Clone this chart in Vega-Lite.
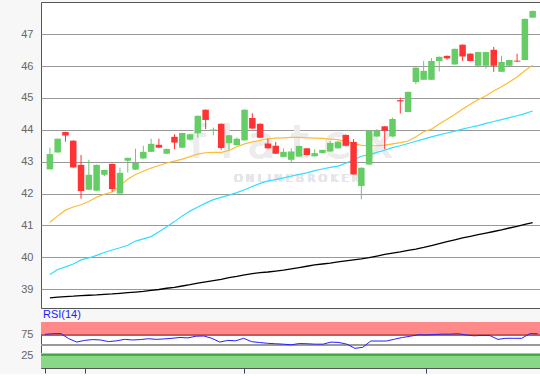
{
  "$schema": "https://vega.github.io/schema/vega-lite/v6.json",
  "background": "#f7f7f7",
  "padding": {"left": 0, "top": 1, "right": 1, "bottom": 0},
  "spacing": 14,
  "bounds": "flush",
  "config": {
    "view": {"fill": "white", "stroke": "#555555", "strokeWidth": 1},
    "axis": {"title": null, "labelFont": "Liberation Sans", "labelFontSize": 11, "labelColor": "#666666", "domain": false, "ticks": false, "labelPadding": 8, "minExtent": 40, "maxExtent": 40},
    "title": {"font": "Liberation Sans", "fontSize": 11, "fontWeight": "normal", "color": "#1a1aff", "anchor": "start", "frame": "group", "offset": 2}
  },
  "datasets": {
    "d": [
      {"i":1,"o":42.76,"h":43.44,"l":42.76,"c":43.24,"m1":41.10,"m2":39.46,"m3":38.73,"r":75.5},
      {"i":2,"o":43.29,"h":43.73,"l":43.28,"c":43.72,"m1":41.30,"m2":39.62,"m3":38.75,"r":77},
      {"i":3,"o":43.93,"h":43.94,"l":43.63,"c":43.82,"m1":41.48,"m2":39.70,"m3":38.77,"r":77.5},
      {"i":4,"o":43.66,"h":43.67,"l":42.81,"c":42.82,"m1":41.58,"m2":39.79,"m3":38.78,"r":65},
      {"i":5,"o":42.90,"h":43.21,"l":41.84,"c":42.08,"m1":41.65,"m2":39.92,"m3":38.80,"r":57},
      {"i":6,"o":42.12,"h":43.06,"l":42.11,"c":42.59,"m1":41.75,"m2":39.98,"m3":38.81,"r":61},
      {"i":7,"o":42.09,"h":42.91,"l":42.08,"c":42.90,"m1":41.89,"m2":40.06,"m3":38.82,"r":63},
      {"i":8,"o":42.59,"h":42.75,"l":42.55,"c":42.74,"m1":41.98,"m2":40.15,"m3":38.84,"r":62},
      {"i":9,"o":42.93,"h":42.94,"l":42.06,"c":42.14,"m1":42.05,"m2":40.23,"m3":38.85,"r":58},
      {"i":10,"o":42.00,"h":42.81,"l":41.99,"c":42.65,"m1":42.25,"m2":40.30,"m3":38.87,"r":60},
      {"i":11,"o":43.03,"h":43.13,"l":42.66,"c":43.12,"m1":42.45,"m2":40.38,"m3":38.89,"r":63.5},
      {"i":12,"o":42.75,"h":43.41,"l":42.74,"c":42.96,"m1":42.60,"m2":40.51,"m3":38.91,"r":62},
      {"i":13,"o":43.10,"h":43.50,"l":43.09,"c":43.31,"m1":42.70,"m2":40.58,"m3":38.93,"r":63},
      {"i":14,"o":43.31,"h":43.72,"l":43.30,"c":43.56,"m1":42.80,"m2":40.65,"m3":38.96,"r":65},
      {"i":15,"o":43.53,"h":43.72,"l":43.43,"c":43.44,"m1":42.88,"m2":40.80,"m3":38.99,"r":63.5},
      {"i":16,"o":43.25,"h":43.41,"l":43.24,"c":43.40,"m1":42.96,"m2":40.96,"m3":39.03,"r":64.5},
      {"i":17,"o":43.78,"h":43.86,"l":43.39,"c":43.60,"m1":43.02,"m2":41.12,"m3":39.06,"r":66},
      {"i":18,"o":43.44,"h":43.91,"l":43.43,"c":43.90,"m1":43.08,"m2":41.30,"m3":39.10,"r":68},
      {"i":19,"o":43.69,"h":43.87,"l":43.66,"c":43.86,"m1":43.16,"m2":41.45,"m3":39.14,"r":67},
      {"i":20,"o":43.89,"h":44.45,"l":43.76,"c":44.44,"m1":43.24,"m2":41.58,"m3":39.19,"r":71},
      {"i":21,"o":44.63,"h":44.64,"l":44.02,"c":44.31,"m1":43.28,"m2":41.70,"m3":39.23,"r":71.5},
      {"i":22,"o":43.98,"h":44.07,"l":43.83,"c":44.01,"m1":43.29,"m2":41.81,"m3":39.27,"r":66},
      {"i":23,"o":44.19,"h":44.20,"l":43.37,"c":43.43,"m1":43.29,"m2":41.88,"m3":39.31,"r":57},
      {"i":24,"o":43.58,"h":43.84,"l":43.37,"c":43.83,"m1":43.35,"m2":41.95,"m3":39.36,"r":61},
      {"i":25,"o":43.52,"h":43.76,"l":43.51,"c":43.72,"m1":43.47,"m2":42.03,"m3":39.40,"r":60},
      {"i":26,"o":43.67,"h":44.64,"l":43.66,"c":44.63,"m1":43.56,"m2":42.12,"m3":39.45,"r":66},
      {"i":27,"o":44.37,"h":44.52,"l":44.03,"c":44.04,"m1":43.62,"m2":42.22,"m3":39.49,"r":58},
      {"i":28,"o":44.19,"h":44.20,"l":43.74,"c":43.75,"m1":43.67,"m2":42.32,"m3":39.52,"r":56},
      {"i":29,"o":43.57,"h":43.72,"l":43.41,"c":43.42,"m1":43.72,"m2":42.40,"m3":39.54,"r":54},
      {"i":30,"o":43.50,"h":43.62,"l":43.24,"c":43.25,"m1":43.74,"m2":42.44,"m3":39.57,"r":53},
      {"i":31,"o":43.15,"h":43.41,"l":43.14,"c":43.31,"m1":43.75,"m2":42.49,"m3":39.60,"r":52},
      {"i":32,"o":43.06,"h":43.42,"l":42.98,"c":43.32,"m1":43.76,"m2":42.55,"m3":39.64,"r":50.5},
      {"i":33,"o":43.16,"h":43.50,"l":43.15,"c":43.49,"m1":43.76,"m2":42.60,"m3":39.68,"r":53.5},
      {"i":34,"o":43.42,"h":43.43,"l":43.20,"c":43.21,"m1":43.75,"m2":42.65,"m3":39.72,"r":53},
      {"i":35,"o":43.17,"h":43.39,"l":43.16,"c":43.27,"m1":43.74,"m2":42.72,"m3":39.76,"r":52},
      {"i":36,"o":43.27,"h":43.38,"l":43.26,"c":43.37,"m1":43.73,"m2":42.77,"m3":39.79,"r":52},
      {"i":37,"o":43.32,"h":43.65,"l":43.31,"c":43.59,"m1":43.71,"m2":42.82,"m3":39.82,"r":57},
      {"i":38,"o":43.42,"h":43.64,"l":43.41,"c":43.63,"m1":43.69,"m2":42.86,"m3":39.86,"r":56},
      {"i":39,"o":43.84,"h":43.85,"l":43.49,"c":43.50,"m1":43.63,"m2":42.95,"m3":39.89,"r":52},
      {"i":40,"o":43.62,"h":43.71,"l":42.59,"c":42.60,"m1":43.57,"m2":43.06,"m3":39.92,"r":42},
      {"i":41,"o":42.24,"h":42.82,"l":41.82,"c":42.81,"m1":43.51,"m2":43.17,"m3":39.95,"r":44.5},
      {"i":42,"o":42.91,"h":43.98,"l":42.90,"c":43.97,"m1":43.50,"m2":43.22,"m3":39.99,"r":59.5},
      {"i":43,"o":43.79,"h":44.02,"l":43.78,"c":43.97,"m1":43.50,"m2":43.29,"m3":40.04,"r":59.5},
      {"i":44,"o":44.11,"h":44.12,"l":43.39,"c":43.97,"m1":43.52,"m2":43.36,"m3":40.09,"r":59.5},
      {"i":45,"o":43.79,"h":44.38,"l":43.78,"c":44.34,"m1":43.56,"m2":43.44,"m3":40.13,"r":64},
      {"i":46,"o":44.93,"h":45.01,"l":44.51,"c":44.89,"m1":43.60,"m2":43.50,"m3":40.17,"r":68},
      {"i":47,"o":44.56,"h":45.20,"l":44.55,"c":45.19,"m1":43.65,"m2":43.57,"m3":40.22,"r":71},
      {"i":48,"o":45.50,"h":45.96,"l":45.43,"c":45.95,"m1":43.78,"m2":43.64,"m3":40.26,"r":74.5},
      {"i":49,"o":45.57,"h":46.16,"l":45.56,"c":45.85,"m1":43.94,"m2":43.71,"m3":40.31,"r":74},
      {"i":50,"o":45.57,"h":46.25,"l":45.56,"c":46.16,"m1":44.02,"m2":43.78,"m3":40.37,"r":75},
      {"i":51,"o":46.16,"h":46.30,"l":45.83,"c":46.29,"m1":44.18,"m2":43.84,"m3":40.43,"r":76},
      {"i":52,"o":46.32,"h":46.33,"l":46.20,"c":46.24,"m1":44.33,"m2":43.90,"m3":40.49,"r":76},
      {"i":53,"o":46.05,"h":46.55,"l":46.04,"c":46.54,"m1":44.48,"m2":43.96,"m3":40.55,"r":77},
      {"i":54,"o":46.67,"h":46.68,"l":46.16,"c":46.30,"m1":44.65,"m2":44.02,"m3":40.61,"r":74},
      {"i":55,"o":46.39,"h":46.40,"l":46.15,"c":46.16,"m1":44.80,"m2":44.08,"m3":40.66,"r":72},
      {"i":56,"o":46.01,"h":46.45,"l":46.00,"c":46.44,"m1":44.95,"m2":44.13,"m3":40.71,"r":73},
      {"i":57,"o":46.01,"h":46.45,"l":45.92,"c":46.44,"m1":45.07,"m2":44.20,"m3":40.76,"r":72.5},
      {"i":58,"o":46.51,"h":46.60,"l":45.82,"c":46.01,"m1":45.22,"m2":44.26,"m3":40.81,"r":63.5},
      {"i":59,"o":45.82,"h":46.32,"l":45.81,"c":46.13,"m1":45.35,"m2":44.32,"m3":40.86,"r":66},
      {"i":60,"o":46.01,"h":46.20,"l":46.00,"c":46.19,"m1":45.50,"m2":44.38,"m3":40.92,"r":66},
      {"i":61,"o":46.17,"h":46.39,"l":46.13,"c":46.14,"m1":45.66,"m2":44.44,"m3":40.97,"r":66},
      {"i":62,"o":46.19,"h":47.49,"l":46.18,"c":47.48,"m1":45.85,"m2":44.51,"m3":41.03,"r":77},
      {"i":63,"o":47.52,"h":47.74,"l":47.51,"c":47.73,"m1":46.03,"m2":44.59,"m3":41.09,"r":77}
    ]
  },
  "vconcat": [
    {
      "width": 499,
      "height": 306,
      "data": {"name": "d"},
      "encoding": {
        "x": {"field": "i", "type": "quantitative", "scale": {"domain": [0.5, 63.3], "nice": false, "zero": false}, "axis": null}
      },
      "layer": [
        {
          "mark": {"type": "text", "text": "f l a t e x", "font": "DejaVu Sans", "fontSize": 46, "color": "#ececec", "baseline": "alphabetic", "align": "center"},
          "encoding": {"x": {"datum": 32}, "y": {"datum": 43.12, "type": "quantitative", "scale": {"domain": [38.41, 48.01], "nice": false, "zero": false}, "axis": {"values": [39, 40, 41, 42, 43, 44, 45, 46, 47], "format": "d", "tickCount": 20, "labelOverlap": false, "grid": true, "gridColor": "#999999", "gridWidth": 1, "gridOpacity": 1}}}
        },
        {
          "mark": {"type": "text", "text": "O N L I N E    B R O K E R", "font": "DejaVu Sans", "fontSize": 11, "color": "#e6e6e6", "baseline": "alphabetic", "align": "center"},
          "encoding": {"x": {"datum": 32.7}, "y": {"datum": 42.37, "type": "quantitative"}}
        },
        {
          "mark": {"type": "line", "color": "#000000", "strokeWidth": 1.3},
          "encoding": {"y": {"field": "m3", "type": "quantitative"}}
        },
        {
          "mark": {"type": "line", "color": "#33ddff", "strokeWidth": 1.2},
          "encoding": {"y": {"field": "m2", "type": "quantitative"}}
        },
        {
          "mark": {"type": "line", "color": "#ffbb33", "strokeWidth": 1.2},
          "encoding": {"y": {"field": "m1", "type": "quantitative"}}
        },
        {
          "mark": {"type": "rule", "strokeWidth": 1},
          "encoding": {
            "y": {"field": "l", "type": "quantitative"},
            "y2": {"field": "h"},
            "color": {"condition": {"test": "datum.c < datum.o", "value": "#ff3333"}, "value": "#66cc66"}
          }
        },
        {
          "mark": {"type": "bar", "size": 6.5},
          "encoding": {
            "y": {"field": "o", "type": "quantitative"},
            "y2": {"field": "c"},
            "color": {"condition": {"test": "datum.c < datum.o", "value": "#ff3333"}, "value": "#66cc66"}
          }
        }
      ]
    },
    {
      "width": 499,
      "height": 46,
      "title": {"text": "RSI(14)", "dx": 2},
      "data": {"name": "d"},
      "layer": [
        {
          "mark": {"type": "rect", "color": "#ff8888"},
          "encoding": {"y": {"datum": 75, "type": "quantitative", "scale": {"domain": [-5, 105], "nice": false, "zero": false}, "axis": {"values": [25, 75], "format": "d", "tickCount": 10, "grid": false, "labelOverlap": false}}, "y2": {"datum": 105}}
        },
        {
          "mark": {"type": "rect", "color": "#88d888"},
          "encoding": {"y": {"datum": -5, "type": "quantitative"}, "y2": {"datum": 30}}
        },
        {
          "mark": {"type": "rule", "color": "#cc5555", "strokeWidth": 1},
          "encoding": {"y": {"datum": 75, "type": "quantitative"}}
        },
        {
          "mark": {"type": "rule", "color": "#55aa55", "strokeWidth": 1},
          "encoding": {"y": {"datum": 25, "type": "quantitative"}}
        },
        {
          "mark": {"type": "rule", "color": "#999999", "strokeWidth": 1},
          "encoding": {"y": {"datum": 50, "type": "quantitative"}}
        },
        {
          "mark": {"type": "line", "color": "#2222ff", "strokeWidth": 1},
          "encoding": {
            "x": {"field": "i", "type": "quantitative", "scale": {"domain": [0.5, 63.3], "nice": false, "zero": false}, "axis": {"values": [1, 6, 26, 49], "tickCount": 10, "labels": false, "ticks": true, "tickSize": 5, "tickColor": "#334466", "grid": false, "domain": false, "minExtent": 5, "maxExtent": 5}},
            "y": {"field": "r", "type": "quantitative"}
          }
        }
      ]
    }
  ]
}
